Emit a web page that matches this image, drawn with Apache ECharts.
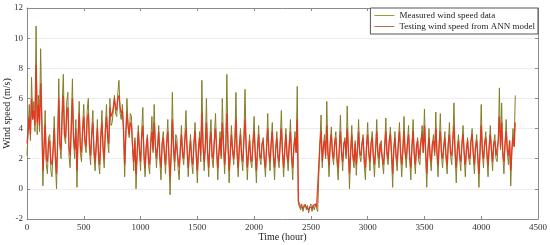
<!DOCTYPE html>
<html>
<head>
<meta charset="utf-8">
<title>wind speed</title>
<script src="https://cdn.jsdelivr.net/npm/echarts@6/dist/echarts.min.js"></script>
<style>
  html, body { margin: 0; padding: 0; background: #fff; }
  #main { width: 550px; height: 245px; }
</style>
</head>
<body>
<div id="main"></div>
<script>
// one sample every STEP hours
var STEP = 10;

// measured wind speed (m/s), one row = 100 hours
var measured = [
  2.2, 4.0, 5.6, 3.2, 7.4, 4.6, 5.8, 3.8, 10.8, 3.6,   // 0
  6.2, 3.8, 9.3, 5.2, 0.2, 2.8, 5.2, 1.6, 1.0, 3.4,    // 100
  3.6, 1.2, 0.8, 2.6, 4.8, 1.8, 0.0, 3.2, 7.3, 2.8,    // 200
  2.0, 5.6, 7.6, 3.4, 3.0, 5.8, 6.4, 2.2, 1.4, 4.4,    // 300
  7.3, 3.2, 2.0, 4.6, 0.1, 3.6, 5.8, 2.4, 1.8, 4.2,    // 400
  5.6, 3.0, 2.4, 5.2, 6.0, 2.6, 1.6, 3.8, 5.2, 2.2,    // 500
  1.2, 2.8, 4.6, 1.8, 1.0, 3.6, 5.2, 2.4, 1.4, 4.0,    // 600
  5.6, 3.2, 2.4, 6.0, 4.2, 4.4, 5.2, 6.2, 5.0, 4.8,    // 700
  6.4, 7.2, 5.0, 4.6, 5.6, 3.8, 0.8, 3.4, 6.0, 4.2,    // 800
  3.4, 5.0, 4.8, 2.6, 1.2, 3.4, 0.0, 2.2, 4.2, 2.6,    // 900
  1.2, 3.8, 5.4, 2.0, 0.8, 2.8, 3.6, 1.6, 1.0, 3.2,    // 1000
  4.8, 2.4, 5.6, 3.0, 1.4, 2.8, 4.2, 1.8, 0.6, 3.0,    // 1100
  3.8, 2.2, 1.0, 3.2, 4.6, 2.0, -0.4, 2.4, 6.4, 2.8,   // 1200
  1.2, 3.6, 3.4, 1.4, 0.6, 2.6, 4.2, 2.2, 1.6, 3.4,    // 1300
  5.2, 2.6, 0.8, 2.4, 3.6, 1.8, 1.0, 3.0, 4.4, 2.2,    // 1400
  0.4, 2.6, 3.8, 1.8, 7.2, 3.0, 1.2, 2.8, 6.0, 2.4,    // 1500
  0.8, 3.2, 4.6, 2.0, 1.4, 3.4, 5.0, 2.6, 0.6, 2.4,    // 1600
  3.8, 2.0, 6.0, 3.2, 1.0, 2.6, 7.6, 3.0, 0.4, 2.2,    // 1700
  4.2, 2.6, 1.6, 3.0, 6.4, 2.4, 0.8, 2.8, 4.0, 2.0,    // 1800
  1.2, 3.4, 6.6, 2.8, 0.6, 2.2, 3.6, 1.8, 1.4, 3.2,    // 1900
  4.8, 2.2, 0.4, 2.6, 4.2, 2.0, 1.6, 3.0, 3.4, 1.8,    // 2000
  0.8, 2.8, 5.0, 2.4, 1.2, 3.0, 4.4, 2.2, 0.6, 2.6,    // 2100
  3.8, 2.0, 1.4, 3.2, 5.2, 2.4, 0.8, 2.6, 4.0, 2.2,    // 2200
  1.2, 3.0, 4.6, 2.0, 0.6, 2.8, 3.8, 2.4, 6.8, -1.0,   // 2300
  -1.2, -1.4, -1.0, -1.5, -1.2, -1.0, -1.4, -1.1, -1.6, -1.2, // 2400
  -1.0, -1.5, -1.1, -1.4, -1.0, -1.3, -1.5, 1.0, 3.2, 4.9,    // 2500
  1.4, 2.8, 3.6, 2.0, 5.8, 2.4, 0.8, 3.0, 4.1, 2.2,    // 2600
  1.6, 3.2, 3.8, 1.8, 0.6, 2.6, 4.9, 2.4, 1.2, 3.0,    // 2700
  3.4, 2.0, 5.5, 2.6, 0.0, 2.4, 4.2, 2.0, 1.4, 3.2,    // 2800
  0.9, 2.6, 4.6, 2.2, 1.8, 3.0, 3.6, 1.6, 0.6, 2.8,    // 2900
  4.4, 2.4, 1.2, 3.0, 3.8, 2.0, 0.8, 2.6, 4.6, 2.2,    // 3000
  1.4, 3.0, 3.2, 1.8, 1.0, 2.8, 4.7, 2.2, 1.6, 3.2,    // 3100
  4.1, 2.4, 0.1, 2.6, 3.8, 2.0, 1.2, 3.0, 4.4, 2.2,    // 3200
  0.8, 2.6, 4.8, 2.4, 1.4, 3.0, 4.2, 2.0, 0.6, 2.8,    // 3300
  4.6, 2.2, 1.0, 2.8, 3.4, 1.8, 1.6, 3.2, 4.2, 2.4,    // 3400
  5.3, 2.6, 0.1, 2.4, 4.0, 2.0, 1.2, 3.0, 3.6, 2.2,    // 3500
  5.1, 2.4, 0.8, 3.0, 5.0, 2.2, 1.4, 2.8, 3.8, 2.0,    // 3600
  1.0, 3.0, 4.4, 2.2, 1.6, 3.2, 5.7, 2.4, 0.4, 2.6,    // 3700
  3.6, 2.0, 1.2, 3.0, 4.2, 2.2, 0.8, 2.6, 3.4, 2.0,    // 3800
  1.6, 3.2, 4.0, 2.2, 1.0, 2.8, 3.6, 2.0, 0.1, 2.6,    // 3900
  5.6, 2.4, 1.4, 3.0, 3.8, 2.2, 0.8, 2.8, 4.2, 2.4,    // 4000
  1.2, 3.0, 3.6, 2.0, 1.8, 3.2, 6.7, 2.6, 5.7, 2.2,    // 4100
  1.0, 3.0, 4.6, 2.4, 1.6, 3.2, 0.2, 2.6, 4.0, 2.8,    // 4200
  6.2                                                  // 4300
];

// ANN model output (m/s), one row = 100 hours
var testing = [
  3.0, 3.8, 4.8, 3.6, 6.0, 4.6, 5.2, 4.2, 8.2, 4.4,
  5.6, 4.2, 7.0, 4.6, 1.2, 2.8, 4.2, 2.0, 1.8, 3.0,
  3.2, 1.8, 1.6, 2.6, 4.0, 2.2, 1.0, 3.0, 6.0, 3.0,
  2.6, 4.8, 6.2, 3.6, 3.4, 5.0, 5.4, 2.8, 2.2, 4.0,
  6.0, 3.4, 2.6, 4.0, 1.2, 3.4, 5.0, 2.8, 2.4, 3.8,
  4.8, 3.2, 2.8, 4.6, 5.0, 3.0, 2.2, 3.6, 4.4, 2.6,
  1.8, 3.0, 4.0, 2.4, 1.6, 3.4, 4.4, 2.8, 2.0, 3.8,
  4.8, 3.6, 3.0, 5.4, 4.8, 5.0, 5.4, 6.0, 5.4, 5.2,
  6.0, 6.2, 5.4, 5.0, 5.2, 4.0, 1.6, 3.6, 5.0, 4.2,
  3.6, 4.4, 4.2, 2.8, 1.8, 3.2, 1.0, 2.4, 3.8, 2.6,
  1.8, 3.4, 4.2, 2.4, 1.4, 2.8, 3.4, 2.0, 1.6, 3.0,
  3.8, 2.6, 4.4, 3.0, 2.0, 2.8, 3.8, 2.2, 1.4, 3.0,
  3.4, 2.4, 1.6, 3.0, 3.8, 2.2, 0.8, 2.4, 4.6, 2.8,
  1.8, 3.2, 3.2, 2.0, 1.4, 2.6, 3.6, 2.4, 2.0, 3.2,
  4.0, 2.6, 1.4, 2.4, 3.2, 2.0, 1.6, 3.0, 3.8, 2.4,
  1.2, 2.6, 3.4, 2.2, 5.0, 3.0, 1.8, 2.8, 4.4, 2.4,
  1.4, 3.0, 3.8, 2.2, 2.0, 3.2, 4.0, 2.6, 1.4, 2.4,
  3.4, 2.2, 4.4, 3.0, 1.6, 2.6, 5.0, 3.0, 1.2, 2.4,
  3.6, 2.6, 2.0, 3.0, 4.6, 2.4, 1.4, 2.8, 3.6, 2.2,
  1.8, 3.2, 4.6, 2.8, 1.4, 2.4, 3.2, 2.0, 1.8, 3.0,
  3.8, 2.4, 1.2, 2.6, 3.6, 2.2, 2.0, 3.0, 3.2, 2.0,
  1.4, 2.8, 4.0, 2.4, 1.8, 3.0, 3.8, 2.2, 1.4, 2.6,
  3.4, 2.2, 1.8, 3.0, 4.0, 2.4, 1.4, 2.6, 3.6, 2.2,
  1.8, 3.0, 3.8, 2.2, 1.4, 2.8, 3.4, 2.4, 4.6, -0.8,
  -1.0, -1.2, -1.1, -1.3, -1.1, -1.0, -1.2, -1.1, -1.4, -1.2,
  -1.1, -1.3, -1.1, -1.2, -1.0, -1.2, -1.3, 1.6, 3.0, 3.8,
  1.8, 2.8, 3.2, 2.2, 4.2, 2.4, 1.6, 3.0, 3.6, 2.4,
  2.0, 3.0, 3.4, 2.0, 1.4, 2.6, 3.8, 2.4, 1.8, 3.0,
  3.2, 2.2, 4.0, 2.6, 1.0, 2.4, 3.6, 2.2, 1.8, 3.0,
  1.6, 2.6, 3.8, 2.4, 2.2, 3.0, 3.4, 2.0, 1.4, 2.8,
  3.6, 2.4, 1.8, 3.0, 3.4, 2.2, 1.6, 2.6, 3.8, 2.4,
  2.0, 3.0, 3.0, 2.0, 1.6, 2.8, 3.8, 2.4, 2.0, 3.2,
  3.6, 2.4, 1.0, 2.6, 3.4, 2.2, 1.8, 3.0, 3.8, 2.4,
  1.6, 2.6, 3.8, 2.4, 2.0, 3.0, 3.6, 2.2, 1.4, 2.8,
  3.8, 2.4, 1.6, 2.8, 3.2, 2.0, 2.0, 3.2, 3.6, 2.4,
  4.2, 2.6, 1.0, 2.4, 3.4, 2.2, 1.8, 3.0, 3.2, 2.4,
  4.0, 2.4, 1.6, 3.0, 3.8, 2.4, 2.0, 2.8, 3.4, 2.2,
  1.6, 3.0, 3.6, 2.4, 2.2, 3.2, 4.2, 2.4, 1.4, 2.6,
  3.2, 2.2, 1.8, 3.0, 3.6, 2.4, 1.6, 2.6, 3.2, 2.2,
  2.0, 3.2, 3.6, 2.4, 1.6, 2.8, 3.2, 2.2, 1.0, 2.6,
  4.2, 2.6, 2.0, 3.0, 3.4, 2.4, 1.6, 2.8, 3.6, 2.6,
  1.8, 3.0, 3.2, 2.2, 2.2, 3.2, 4.8, 2.8, 4.4, 2.4,
  1.8, 3.0, 3.8, 2.6, 2.2, 3.2, 1.2, 2.6, 3.4, 2.8,
  4.4
];

var FONT = 'Liberation Serif';

function pairs(values) {
  return values.map(function (v, i) { return [i * STEP, v]; });
}

function getOption() {
  var boxLine = {
    onZero: false,
    lineStyle: { color: '#8a8a8a', width: 1 }
  };
  var tick = {
    show: true,
    inside: true,
    length: 3,
    lineStyle: { color: '#8a8a8a' }
  };
  var option = {
    backgroundColor: '#fff',
    animation: false,
    textStyle: { fontFamily: FONT },
    grid: { left: 27, right: 12, top: 8, bottom: 26, containLabel: false, outerBoundsMode: 'none' },
    legend: {
      right: 12,
      top: 8,
      orient: 'vertical',
      align: 'left',
      icon: 'rect',
      backgroundColor: '#fff',
      borderColor: '#555',
      borderWidth: 1,
      borderRadius: 0,
      padding: [3, 3, 3, 4],
      itemGap: 2,
      itemWidth: 20,
      itemHeight: 1,
      textStyle: { fontFamily: FONT, fontSize: 9, color: '#222' },
      data: ['Measured wind speed data', 'Testing wind speed from ANN model']
    },
    xAxis: [{
      type: 'value',
      min: 0,
      max: 4500,
      interval: 500,
      name: 'Time (hour)',
      nameLocation: 'middle',
      nameGap: 13,
      nameMoveOverlap: false,
      nameTextStyle: { fontFamily: FONT, fontSize: 10, color: '#222' },
      axisLine: boxLine,
      axisTick: tick,
      axisLabel: {
        fontFamily: FONT, fontSize: 9, color: '#333', margin: 4,
        formatter: function (v) { return String(v); }
      },
      splitLine: { show: false }
    }, {
      type: 'value',
      position: 'top',
      min: 0,
      max: 4500,
      interval: 500,
      axisLine: boxLine,
      axisTick: tick,
      axisLabel: { show: false },
      splitLine: { show: false }
    }],
    yAxis: [{
      type: 'value',
      min: -2,
      max: 12,
      interval: 2,
      name: 'Wind speed (m/s)',
      nameLocation: 'middle',
      nameGap: 15,
      nameMoveOverlap: false,
      nameTextStyle: { fontFamily: FONT, fontSize: 10, color: '#222' },
      axisLine: boxLine,
      axisTick: tick,
      axisLabel: { fontFamily: FONT, fontSize: 9, color: '#333', margin: 4 },
      splitLine: { show: true, lineStyle: { color: '#ececec', width: 1 } }
    }, {
      type: 'value',
      position: 'right',
      min: -2,
      max: 12,
      interval: 2,
      axisLine: boxLine,
      axisTick: tick,
      axisLabel: { show: false },
      splitLine: { show: false }
    }],
    series: [{
      name: 'Measured wind speed data',
      type: 'line',
      symbol: 'none',
      color: '#9c9a3c',
      lineStyle: { color: '#857d26', width: 1 },
      data: pairs(measured)
    }, {
      name: 'Testing wind speed from ANN model',
      type: 'line',
      symbol: 'none',
      color: '#c0644c',
      lineStyle: { color: '#e8301c', width: 1.3, opacity: 0.9 },
      data: pairs(testing)
    }]
  };
  return option;
}

var chart = echarts.init(document.getElementById('main'), null, { renderer: 'canvas' });
chart.setOption(getOption());
</script>
</body>
</html>
